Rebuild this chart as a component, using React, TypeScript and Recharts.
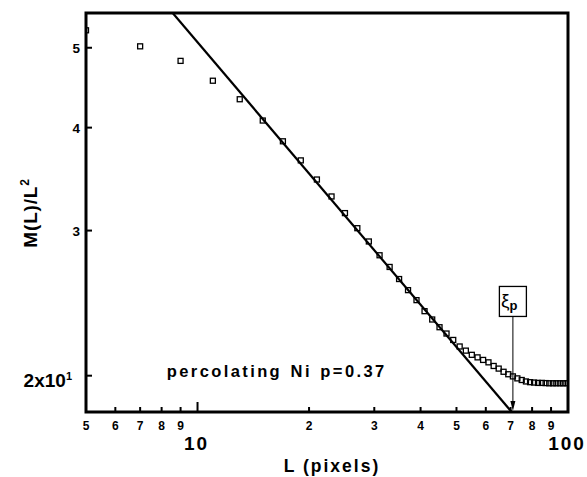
import React from 'react';
import {
  ComposedChart,
  XAxis,
  YAxis,
  Scatter,
  ReferenceLine,
  ReferenceArea,
  ReferenceDot,
} from 'recharts';

// Box size L (pixels) and measured mass per unit area M(L)/L^2
const boxSizes = [
  5, 7, 9, 11, 13, 15, 17, 19, 21, 23, 25, 27, 29, 31, 33, 35, 37, 39, 41, 43, 45, 47, 49, 51,
  53, 55, 57, 59, 61, 63, 65, 67, 69, 71, 73, 75, 77, 79, 81, 83, 85, 87, 89, 91, 93, 95, 97, 99,
];
const massPerArea = [
  52.5, 50.2, 48.2, 45.6, 43.3, 40.8, 38.5, 36.5, 34.6, 33.0, 31.5, 30.2, 29.1, 28.0, 27.1, 26.2,
  25.4, 24.7, 23.95, 23.4, 22.9, 22.5, 22.1, 21.7, 21.45, 21.2, 21.05, 20.9, 20.76, 20.55, 20.4,
  20.22, 20.08, 19.96, 19.85, 19.76, 19.68, 19.64, 19.62, 19.6, 19.6, 19.59, 19.58, 19.58, 19.58,
  19.58, 19.58, 19.58,
];

// Power-law fit, given by its two ends on the frame
const fitL = [8.57, 70.5];
const fitM = [55.1, 18.07];

// Correlation length marker
const XI_P = 71;
const XI_P_ARROW_TOP = 23.6;

// Axis ticks and their printed labels
const xTicks = [5, 6, 7, 8, 9, 10, 20, 30, 40, 50, 60, 70, 80, 90, 100];
const xTickLabels = ['5', '6', '7', '8', '9', '10', '2', '3', '4', '5', '6', '7', '8', '9', '100'];
const yTicks = [20, 30, 40, 50];
const yTickLabels = ['2x10', '3', '4', '5'];

const X_DOMAIN: [number, number] = [5, 100];
const Y_DOMAIN: [number, number] = [18.07, 55.1];

const caption = 'percolating Ni p=0.37';
const CAPTION_AT = { L: 8.26, M: 19.94 };

const points = boxSizes.map((L, i) => ({ L, M: massPerArea[i] }));
const fit = fitL.map((L, i) => ({ L, M: fitM[i] }));

const FONT = '"Liberation Sans", Arial, Helvetica, sans-serif';
const INK = '#000';

function XTick(props: any) {
  const { x, y, payload, index } = props;
  const v = payload.value;
  const label = xTickLabels[xTicks.indexOf(v)] ?? String(v);
  const decade = v === 10 || v === 100;
  const edge = v === X_DOMAIN[0] || v === X_DOMAIN[1];
  return (
    <g key={index}>
      {!edge && (
        <line x1={x} x2={x} y1={y} y2={y - (decade ? 10 : 5)} stroke={INK} strokeWidth={2} />
      )}
      {decade ? (
        <text x={x - 1} y={y + 38} textAnchor="middle" fontFamily={FONT} fontWeight="bold" fontSize={19} letterSpacing={2} fill={INK}>
          {label}
        </text>
      ) : (
        <text x={x} y={y + 18} textAnchor="middle" fontFamily={FONT} fontWeight="bold" fontSize={12} fill={INK}>
          {label}
        </text>
      )}
    </g>
  );
}

function YTick(props: any) {
  const { x, y, payload, index } = props;
  const v = payload.value;
  const label = yTickLabels[yTicks.indexOf(v)] ?? String(v);
  return (
    <g key={index}>
      <line x1={x} x2={x + 6} y1={y} y2={y} stroke={INK} strokeWidth={2} />
      {v === 20 ? (
        <text x={x - 14} y={y + 11.5} textAnchor="end" fontFamily={FONT} fontWeight="bold" fontSize={19} fill={INK}>
          {label}
          <tspan dy={-7} fontSize={11}>1</tspan>
        </text>
      ) : (
        <text x={x - 6} y={y + 5} textAnchor="end" fontFamily={FONT} fontWeight="bold" fontSize={13.5} fill={INK}>
          {label}
        </text>
      )}
    </g>
  );
}

function Square(props: any) {
  const { cx, cy } = props;
  if (cx == null || cy == null) return <g />;
  return <rect x={cx - 2.5} y={cy - 2.5} width={5} height={5} fill="none" stroke={INK} strokeWidth={1.3} />;
}

function XiArrow(props: any) {
  const { x1, y1, x2, y2 } = props;
  const bw = 27;
  const bh = 30;
  return (
    <g>
      <line x1={x1} y1={y1} x2={x2} y2={y2 - 8} stroke={INK} strokeWidth={1} />
      <polygon points={`${x2 - 2.5},${y2 - 11} ${x2 + 2.5},${y2 - 11} ${x2},${y2 - 1}`} fill={INK} />
      <rect x={x1 - bw / 2} y={y1 - bh} width={bw} height={bh} fill="#fff" stroke={INK} strokeWidth={1.3} />
      <text x={x1 - 12} y={y1 - 9} fontFamily={FONT} fontSize={19} fill={INK}>
        ξ
        <tspan dy={3} fontSize={13} fontWeight="bold">p</tspan>
      </text>
    </g>
  );
}

function Caption(props: any) {
  const { cx, cy } = props;
  return (
    <text x={cx} y={cy} fontFamily={FONT} fontWeight="bold" fontSize={16.5} letterSpacing={2.4} wordSpacing={1.5} fill={INK}>
      {caption}
    </text>
  );
}

export default function App() {
  return (
    <div style={{ position: 'absolute', left: 0, top: 0, width: 587, height: 477, background: '#fff' }}>
      <ComposedChart width={587} height={477} margin={{ top: 13, right: 19, bottom: 15, left: 26 }}>
        <XAxis
          dataKey="L"
          type="number"
          scale="log"
          domain={X_DOMAIN}
          allowDataOverflow
          ticks={xTicks}
          interval={0}
          height={50}
          axisLine={false}
          tickLine={false}
          tickSize={0}
          tickMargin={0}
          tick={<XTick />}
          label={{
            content: (p: any) => {
              const vb = p.viewBox;
              return (
                <text x={vb.x + 246} y={vb.y + 60} textAnchor="middle" fontFamily={FONT} fontWeight="bold" fontSize={17.5} letterSpacing={2} fill={INK}>
                  L  (pixels)
                </text>
              );
            },
          }}
        />
        <YAxis
          dataKey="M"
          type="number"
          scale="log"
          domain={Y_DOMAIN}
          allowDataOverflow
          ticks={yTicks}
          interval={0}
          width={60}
          axisLine={false}
          tickLine={false}
          tickSize={0}
          tickMargin={0}
          tick={<YTick />}
          label={{
            content: (p: any) => {
              const vb = p.viewBox;
              return (
                <text transform={`translate(${vb.x + 11}, 213) rotate(-90)`} textAnchor="middle" fontFamily={FONT} fontWeight="bold" fontSize={19} letterSpacing={0.8} fill={INK}>
                  M(L)/L
                  <tspan dy={-8} fontSize={12}>2</tspan>
                </text>
              );
            },
          }}
        />
        <ReferenceArea
          x1={X_DOMAIN[0]}
          x2={X_DOMAIN[1]}
          y1={Y_DOMAIN[0]}
          y2={Y_DOMAIN[1]}
          fill="none"
          fillOpacity={0}
          stroke={INK}
          strokeWidth={3}
          ifOverflow="visible"
        />
        <Scatter
          data={fit}
          line={{ stroke: INK, strokeWidth: 2.2 }}
          shape={() => <g />}
          isAnimationActive={false}
        />
        <Scatter data={points} shape={<Square />} isAnimationActive={false} />
        <ReferenceLine
          segment={[
            { x: XI_P, y: XI_P_ARROW_TOP },
            { x: XI_P, y: Y_DOMAIN[0] },
          ]}
          ifOverflow="visible"
          shape={<XiArrow />}
        />
        <ReferenceDot x={CAPTION_AT.L} y={CAPTION_AT.M} r={0} ifOverflow="visible" shape={<Caption />} />
      </ComposedChart>
    </div>
  );
}
